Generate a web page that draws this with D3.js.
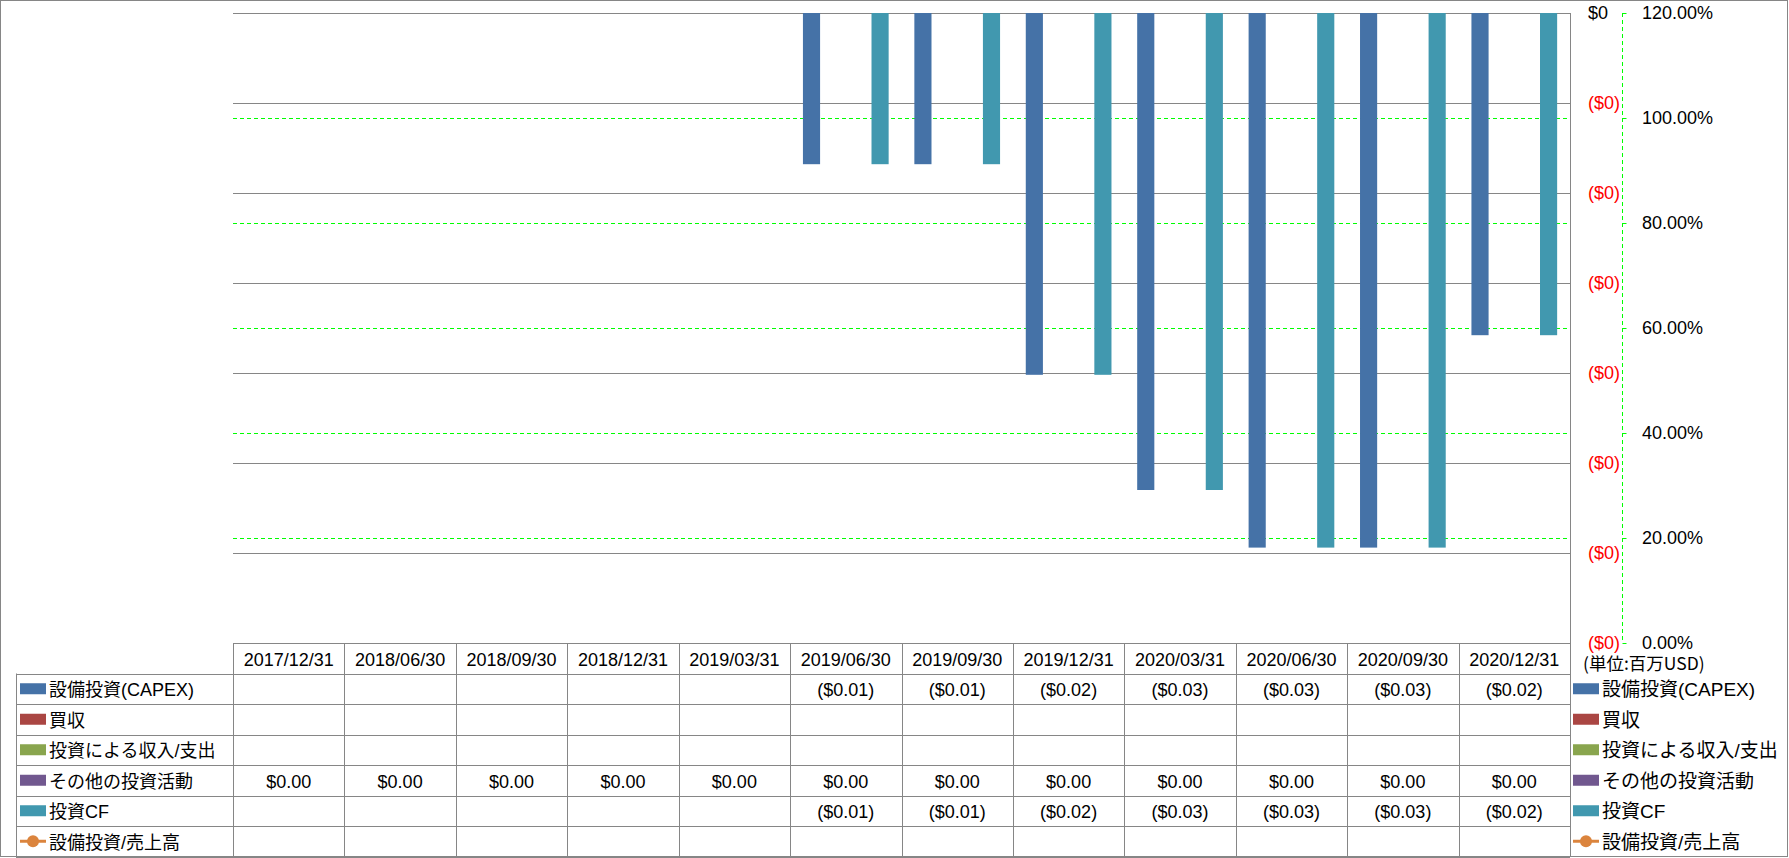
<!DOCTYPE html>
<html>
<head>
<meta charset="utf-8">
<script src="https://cdn.jsdelivr.net/npm/d3@7"></script>
<style>
  html, body { margin: 0; padding: 0; background: #fff; }
  svg { display: block; }
  text { font-family: "Liberation Sans", "Noto Sans CJK JP", sans-serif; }
</style>
</head>
<body>
<svg id="chart" width="1789" height="858"></svg>
<script>
// ---- data ----
const categories = ["2017/12/31","2018/06/30","2018/09/30","2018/12/31","2019/03/31","2019/06/30","2019/09/30","2019/12/31","2020/03/31","2020/06/30","2020/09/30","2020/12/31"];
const capex        = [null, null, null, null, null, -0.0084, -0.0084, -0.0201, -0.0265, -0.0297, -0.0297, -0.0179];
const acquisitions = [null, null, null, null, null, null, null, null, null, null, null, null];
const investIncome = [null, null, null, null, null, null, null, null, null, null, null, null];
const otherInvest  = [0, 0, 0, 0, 0, 0, 0, 0, 0, 0, 0, 0];
const investCF     = [null, null, null, null, null, -0.0084, -0.0084, -0.0201, -0.0265, -0.0297, -0.0297, -0.0179];
const capexRatio   = [null, null, null, null, null, null, null, null, null, null, null, null];
const seriesNames  = ["設備投資(CAPEX)", "買収", "投資による収入/支出", "その他の投資活動", "投資CF", "設備投資/売上高"];
const seriesColors = ["#4572A7", "#AA4643", "#89A54E", "#71588F", "#4198AF", "#DB843D"];
const primaryTicks = [0, -0.005, -0.01, -0.015, -0.02, -0.025, -0.03, -0.035];
const pctTicks     = [0, 0.2, 0.4, 0.6, 0.8, 1.0, 1.2];
const unitLabel    = "(単位:百万USD)";

// ---- layout ----
const svg = d3.select("#chart");
const plotL = 233, plotR = 1570, plotT = 13, plotB = 643;
const tableL = 16, rowH = 30.5, headerB = 673.5;
const gray = "#868686";
const crisp = v => Math.round(v) + 0.5;

const barData = [capex, acquisitions, investIncome, otherInvest, investCF];
const barNames = seriesNames.slice(0, 5);

const x = d3.scaleBand().domain(categories).range([plotL, plotR]).padding(0);
const xInner = d3.scaleBand().domain(barNames).range([0, x.bandwidth()]).paddingInner(0).paddingOuter(0.75);
const y = d3.scaleLinear().domain([d3.min(primaryTicks), d3.max(primaryTicks)]).range([plotB, plotT]);
const y2 = d3.scaleLinear().domain([0, 1.2]).range([plotB, plotT]);

// outer border
svg.append("rect").attr("x", 0.5).attr("y", 0.5).attr("width", 1787).attr("height", 856)
  .attr("fill", "#fff").attr("stroke", gray);

// primary gridlines
svg.append("g").selectAll("line").data(primaryTicks).join("line")
  .attr("x1", plotL).attr("x2", plotR)
  .attr("y1", d => crisp(y(d))).attr("y2", d => crisp(y(d)))
  .attr("stroke", gray).attr("stroke-width", 1);

// secondary gridlines (green dashed)
svg.append("g").selectAll("line").data(pctTicks.filter(d => d > 0 && d < 1.2)).join("line")
  .attr("x1", plotL).attr("x2", plotR)
  .attr("y1", d => crisp(y2(d))).attr("y2", d => crisp(y2(d)))
  .attr("stroke", "#00FF00").attr("stroke-width", 1).attr("stroke-dasharray", "4,3");

// bars
const gBars = svg.append("g");
barData.forEach((vals, si) => {
  gBars.append("g").selectAll("rect")
    .data(vals.map((v, i) => ({ v, c: categories[i] })).filter(d => d.v !== null))
    .join("rect")
    .attr("x", d => x(d.c) + xInner(barNames[si]))
    .attr("width", xInner.bandwidth())
    .attr("y", d => Math.min(y(0), y(d.v)))
    .attr("height", d => Math.abs(y(d.v) - y(0)))
    .attr("fill", seriesColors[si]);
});

// ratio line (secondary axis) - no data points
const lineGen = d3.line().defined(d => d.v !== null)
  .x(d => x(d.c) + x.bandwidth() / 2).y(d => y2(d.v));
const ratioPts = capexRatio.map((v, i) => ({ v, c: categories[i] }));
svg.append("path").datum(ratioPts).attr("d", lineGen).attr("fill", "none")
  .attr("stroke", seriesColors[5]).attr("stroke-width", 3);
svg.append("g").selectAll("circle").data(ratioPts.filter(d => d.v !== null)).join("circle")
  .attr("cx", d => x(d.c) + x.bandwidth() / 2).attr("cy", d => y2(d.v)).attr("r", 5).attr("fill", seriesColors[5]);

// plot right edge
svg.append("line").attr("x1", crisp(plotR)).attr("x2", crisp(plotR))
  .attr("y1", plotT).attr("y2", 857).attr("stroke", gray);

// primary axis labels
const fmtMoney0 = v => v < 0 ? "($" + d3.format(".0f")(-v) + ")" : "$" + d3.format(".0f")(v);
svg.append("g").selectAll("text").data(primaryTicks).join("text")
  .attr("x", 1588).attr("y", d => y(d)).attr("dy", "0.35em")
  .attr("font-size", 18)
  .attr("fill", d => d < 0 ? "#FF0000" : "#000")
  .text(fmtMoney0);

// secondary axis
const axisX = 1622.5;
svg.append("line").attr("x1", axisX).attr("x2", axisX).attr("y1", plotT).attr("y2", plotB)
  .attr("stroke", "#00FF00").attr("stroke-dasharray", "4,3");
svg.append("g").selectAll("line").data(pctTicks).join("line")
  .attr("x1", axisX).attr("x2", axisX + 4)
  .attr("y1", d => crisp(y2(d))).attr("y2", d => crisp(y2(d)))
  .attr("stroke", "#00FF00");
svg.append("g").selectAll("text").data(pctTicks).join("text")
  .attr("x", 1642).attr("y", d => y2(d)).attr("dy", "0.35em")
  .attr("font-size", 18).attr("fill", "#000")
  .text(d => d3.format(".2%")(d));

// unit label
svg.append("text").attr("x", 1583).attr("y", 664).attr("dy", "0.35em")
  .attr("font-size", 17.5).attr("fill", "#000")
  .style("font-family", "'Noto Sans CJK JP', sans-serif")
  .text(unitLabel);

// ---- data table ----
const gT = svg.append("g");
const rowsY = d3.range(seriesNames.length + 1).map(i => headerB + i * rowH);
rowsY.forEach((ry, i) => {
  gT.append("line").attr("x1", tableL).attr("x2", plotR)
    .attr("y1", crisp(ry)).attr("y2", crisp(ry)).attr("stroke", gray);
});
gT.append("line").attr("x1", crisp(tableL)).attr("x2", crisp(tableL))
  .attr("y1", headerB).attr("y2", 857).attr("stroke", gray);
categories.forEach(c => {
  gT.append("line").attr("x1", crisp(x(c))).attr("x2", crisp(x(c)))
    .attr("y1", plotB).attr("y2", 857).attr("stroke", gray);
});
gT.selectAll("text.hdr").data(categories).join("text").attr("class", "hdr")
  .attr("x", d => x(d) + x.bandwidth() / 2).attr("y", (plotB + headerB) / 2 + 1).attr("dy", "0.35em")
  .attr("text-anchor", "middle").attr("font-size", 18).attr("fill", "#000").text(d => d);

const allSeries = [capex, acquisitions, investIncome, otherInvest, investCF, capexRatio];
const fmtMoney2 = v => v < 0 ? "($" + d3.format(".2f")(-v) + ")" : "$" + d3.format(".2f")(v);
function legendKey(g, i, kx, cy) {
  if (i === 5) {
    g.append("line").attr("x1", kx).attr("x2", kx + 26).attr("y1", cy).attr("y2", cy)
      .attr("stroke", seriesColors[i]).attr("stroke-width", 3);
    g.append("circle").attr("cx", kx + 13).attr("cy", cy).attr("r", 6).attr("fill", seriesColors[i]);
  } else {
    g.append("rect").attr("x", kx).attr("y", cy - 5.5).attr("width", 26).attr("height", 11)
      .attr("fill", seriesColors[i]);
  }
}
seriesNames.forEach((name, i) => {
  const cy = headerB + i * rowH + rowH / 2;
  legendKey(gT, i, 20, cy);
  gT.append("text").attr("x", 49).attr("y", cy + 1).attr("dy", "0.35em")
    .attr("font-size", 18).attr("fill", "#000").text(name);
  legendKey(gT, i, 1573, cy);
  gT.append("text").attr("x", 1602).attr("y", cy + 1).attr("dy", "0.35em")
    .attr("font-size", 19).attr("fill", "#000").text(name);
  gT.append("g").selectAll("text")
    .data(allSeries[i].map((v, j) => ({ v, c: categories[j] })).filter(d => d.v !== null))
    .join("text")
    .attr("x", d => x(d.c) + x.bandwidth() / 2).attr("y", cy + 1).attr("dy", "0.35em")
    .attr("text-anchor", "middle").attr("font-size", 18).attr("fill", "#000")
    .text(d => i === 5 ? d3.format(".2%")(d.v) : fmtMoney2(d.v));
});
</script>
</body>
</html>
